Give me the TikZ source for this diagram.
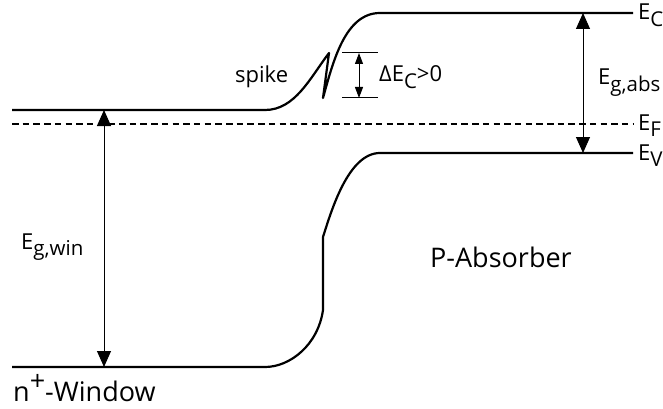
\documentclass[tikz,border=0pt]{standalone}
\usepackage{fontspec}
\setmainfont{Open Sans}
\usetikzlibrary{arrows.meta}

\newcommand\lowsub[1]{\raisebox{-0.28em}{\scalebox{0.93}{#1}}}
\newcommand\highsup[1]{\raisebox{0.4em}{#1}}

\begin{document}
\begin{tikzpicture}[x=1pt, y=-1pt, font=\fontsize{22}{26}\selectfont,
  band/.style={line width=2.2pt, line join=round},
  fermi/.style={line width=2pt, dash pattern=on 6.5pt off 4.2pt},
  gap/.style={line width=1pt, {Triangle[width=14pt,length=16pt]}-{Triangle[width=14pt,length=16pt]}},
  offset/.style={line width=1pt, {Triangle[width=8pt,length=11pt]}-{Triangle[width=8pt,length=11pt]}},
  tick/.style={line width=1pt},
  lbl/.style={anchor=base west, inner sep=0pt},
  big/.style={lbl, font=\fontsize{27}{31}\selectfont}]
\useasboundingbox (0,0) rectangle (663,409);

% conduction band with spike
\coordinate (cbL) at (12,110);
\coordinate (cbR) at (633,13);
\coordinate (spTop) at (329,53);
\coordinate (spBot) at (323,98);
\draw[band] (cbL) -- (265,110) .. controls (295,110) and (310,78) .. (spTop)
  -- (spBot) .. controls (333,62) and (345,13) .. (380,13) -- (cbR);

% valence band
\coordinate (vbL) at (12,367);
\coordinate (vbR) at (633,153);
\draw[band] (vbL) -- (265,367) .. controls (290,367) and (318,345) .. (323,310)
  -- (323,237) .. controls (331,212) and (348,153) .. (380,153) -- (vbR);

% Fermi level
\coordinate (efL) at (12,124);
\coordinate (efR) at (633,124);
\draw[fermi] (efL) -- (efR);

% band gaps
\coordinate (winTop) at (104,110);
\coordinate (winBot) at (104,367);
\draw[gap] (winTop) -- (winBot);
\coordinate (absTop) at (583,13);
\coordinate (absBot) at (583,153);
\draw[gap] (absTop) -- (absBot);

% conduction band offset
\coordinate (tkA1) at (342,53); \coordinate (tkA2) at (378,53);
\coordinate (tkB1) at (342,98); \coordinate (tkB2) at (378,98);
\draw[tick] (tkA1) -- (tkA2);
\draw[tick] (tkB1) -- (tkB2);
\coordinate (offTop) at (359,53);
\coordinate (offBot) at (359,98);
\draw[offset] (offTop) -- (offBot);

% labels
\node[lbl] (ec) at (638,20) {E\lowsub{C}};
\node[lbl] (ef) at (638,130) {E\lowsub{F}};
\node[lbl] (ev) at (638,160) {E\lowsub{V}};
\node[lbl] (egabs) at (598,85) {E\lowsub{g,abs}};
\node[lbl] (egwin) at (21,249) {E\lowsub{g,win}};
\node[lbl] (spike) at (235,83) {spike};
\node[lbl] (dec) at (379,82) {ΔE\lowsub{C}>0};
\node[big] (abs) at (430,267) {P-Absorber};
\node[big] (win) at (13,401) {n\highsup{+}-Window};
\end{tikzpicture}
\end{document}
